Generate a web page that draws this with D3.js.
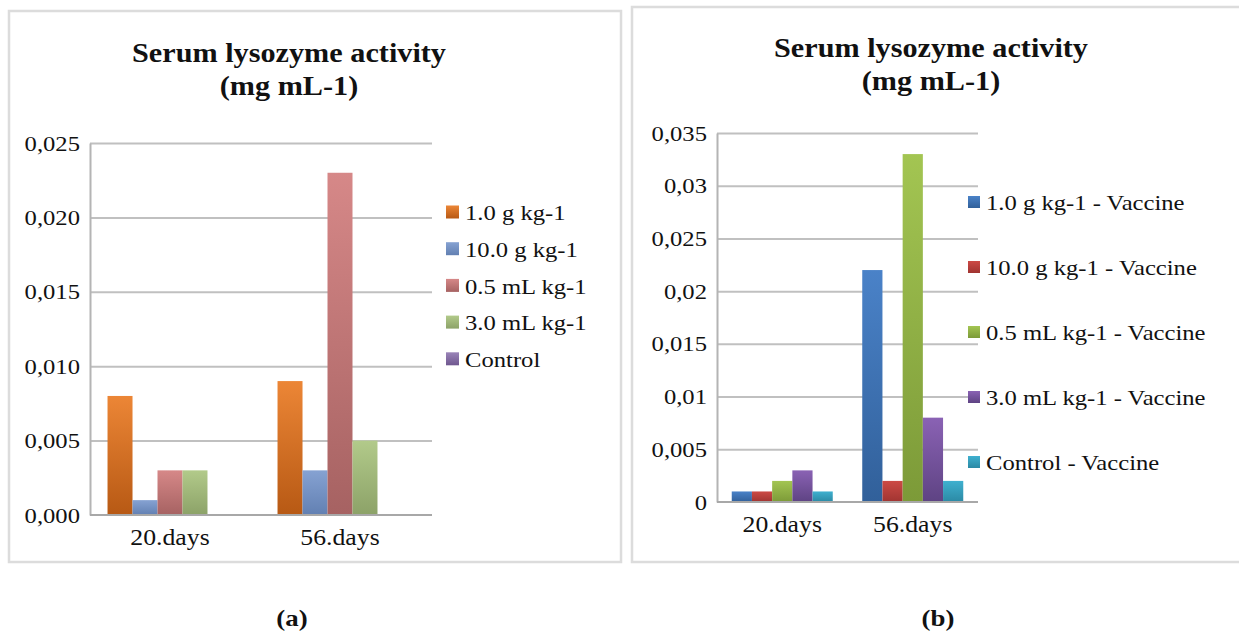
<!DOCTYPE html>
<html>
<head>
<meta charset="utf-8">
<script src="https://cdn.jsdelivr.net/npm/d3@7"></script>
<style>
  body { margin: 0; background: #fff; }
  svg { display: block; }
</style>
</head>
<body>
<script>
// data

var categories = ["20.days", "56.days"];

var seriesA = ["1.0 g kg-1", "10.0 g kg-1", "0.5 mL kg-1", "3.0 mL kg-1", "Control"];
var valuesA20 = [0.008, 0.001, 0.003, 0.003, 0.00005];
var valuesA56 = [0.009, 0.003, 0.023, 0.005, 0.00005];
var ticksA = [0, 0.005, 0.010, 0.015, 0.020, 0.025];

var seriesB = ["1.0 g kg-1 - Vaccine", "10.0 g kg-1 - Vaccine", "0.5 mL kg-1 - Vaccine",
               "3.0 mL kg-1 - Vaccine", "Control - Vaccine"];
var valuesB20 = [0.001, 0.001, 0.002, 0.003, 0.001];
var valuesB56 = [0.022, 0.002, 0.033, 0.008, 0.002];
var ticksB = [0, 0.005, 0.01, 0.015, 0.02, 0.025, 0.03, 0.035];

// top / bottom colours of the bar gradients
var coloursA = [["#ec8636", "#b75914"], ["#86a2d2", "#6280b2"], ["#d68888", "#a66262"],
                ["#b2ca8a", "#8ca268"], ["#9a84b8", "#6f578f"]];
var coloursB = [["#4a82c8", "#31609a"], ["#cc4a45", "#a03431"], ["#a3c552", "#7c9a38"],
                ["#8a62b4", "#5e4383"], ["#3fb0cf", "#2b89a4"]];

var FONT = "'Liberation Serif', 'Times New Roman', 'DejaVu Serif', serif";
var SX = 1.12; // the source picture is a little stretched sideways

function stretch(sel) {
  sel.each(function() {
    var x = +this.getAttribute("x") || 0;
    this.setAttribute("transform", "translate(" + x + ",0) scale(" + SX + ",1) translate(" + (-x) + ",0)");
  });
}

var svg = d3.select("body").append("svg")
    .attr("width", 1239).attr("height", 635)
    .attr("font-family", FONT)
    .attr("fill", "#111");

var defs = svg.append("defs");

function appendGradient(id, pair) {
  var g = defs.append("linearGradient").attr("id", id)
      .attr("x1", "0%").attr("y1", "0%").attr("x2", "0%").attr("y2", "100%");
  g.append("stop").attr("offset", "0%").attr("stop-color", pair[0]);
  g.append("stop").attr("offset", "100%").attr("stop-color", pair[1]);
}

function drawPanel(opt) {
  var panel = svg.append("g");

  panel.append("rect")
      .attr("x", opt.frame[0]).attr("y", opt.frame[1])
      .attr("width", opt.frame[2]).attr("height", opt.frame[3])
      .attr("fill", "#fff").attr("stroke", "#dcdcdc").attr("stroke-width", 2.5);

  // title
  var title = panel.append("text")
      .attr("text-anchor", "middle")
      .attr("font-size", 27).attr("font-weight", "bold").attr("fill", "#111");
  title.append("tspan").attr("x", opt.titleX).attr("y", opt.titleY).text("Serum lysozyme activity");
  title.append("tspan").attr("x", opt.titleX).attr("y", opt.titleY + 33).text("(mg mL-1)");
  title.attr("transform", "translate(" + opt.titleX + ",0) scale(" + SX + ",1) translate(" + (-opt.titleX) + ",0)");

  var y = d3.scaleLinear().domain([0, opt.ticks[opt.ticks.length - 1]]).range([opt.bottom, opt.top]);
  var x0 = d3.scaleBand().domain(categories).range(opt.band)
      .paddingInner(opt.pad).paddingOuter(opt.pad / 2);
  var x1 = d3.scaleBand().domain(opt.series).range([0, x0.bandwidth()]);

  // gridlines
  panel.append("g")
      .attr("transform", "translate(" + opt.left + ",0)")
      .call(d3.axisLeft(y).tickValues(opt.ticks.slice(1)).tickSize(-(opt.gridRight - opt.left)).tickFormat(""))
      .call(function(g) {
        g.select(".domain").remove();
        g.selectAll("line").attr("stroke", "#c0c0c0").attr("stroke-width", 2);
      });

  // y axis
  panel.append("g")
      .attr("transform", "translate(" + opt.left + ",0)")
      .call(d3.axisLeft(y).tickValues(opt.ticks).tickSize(0).tickPadding(10).tickFormat(opt.format))
      .attr("font-family", FONT).attr("font-size", 22)
      .call(function(g) {
        g.select(".domain").attr("stroke", "#b4b4b4").attr("stroke-width", 2);
        g.selectAll("text").attr("fill", "#111").call(stretch);
      });

  // bars
  var rows = categories.map(function(c, i) { return { cat: c, values: opt.values[i] }; });
  panel.append("g").selectAll("g")
      .data(rows)
      .join("g")
      .attr("transform", function(d) { return "translate(" + x0(d.cat) + ",0)"; })
      .selectAll("rect")
      .data(function(d) { return d.values.map(function(v, j) { return { key: opt.series[j], value: v, j: j }; }); })
      .join("rect")
      .attr("x", function(d) { return x1(d.key); })
      .attr("width", x1.bandwidth())
      .attr("y", function(d) { return y(d.value); })
      .attr("height", function(d) { return y(0) - y(d.value); })
      .attr("fill", function(d) { return "url(#" + opt.id + "-g" + d.j + ")"; });

  // x axis
  panel.append("g")
      .attr("transform", "translate(0," + opt.bottom + ")")
      .call(d3.axisBottom(x0).tickSize(0).tickPadding(14))
      .attr("font-family", FONT).attr("font-size", 23)
      .call(function(g) {
        g.select(".domain").attr("d", "M" + opt.left + ",0H" + opt.gridRight)
            .attr("stroke", "#a8a8a8").attr("stroke-width", 2);
        g.selectAll("text").attr("fill", "#111").call(stretch);
      });

  // legend
  var legend = panel.append("g").selectAll("g")
      .data(opt.series)
      .join("g")
      .attr("transform", function(d, i) { return "translate(" + opt.legendX + "," + (opt.legendY + i * opt.legendStep) + ")"; });
  legend.append("rect")
      .attr("x", 0).attr("y", -opt.sq / 2 - 1).attr("width", opt.sq).attr("height", opt.sq)
      .attr("fill", function(d, i) { return "url(#" + opt.id + "-g" + i + ")"; });
  legend.append("text")
      .attr("x", opt.sq + 6).attr("dy", "0.33em")
      .attr("font-size", 22).attr("fill", "#111")
      .text(function(d) { return d; })
      .call(stretch);

  // caption
  svg.append("text")
      .attr("x", opt.captionX).attr("y", 626)
      .attr("text-anchor", "middle")
      .attr("font-size", 24).attr("font-weight", "bold").attr("fill", "#111")
      .text(opt.caption)
      .call(stretch);
}

coloursA.forEach(function(c, i) { appendGradient("a-g" + i, c); });
coloursB.forEach(function(c, i) { appendGradient("b-g" + i, c); });

var formatComma3 = function(v) { return d3.format(".3f")(v).replace(".", ","); };
var formatGeneral = function(v) { return String(+v.toFixed(3)).replace(".", ","); };

drawPanel({
  id: "a", frame: [9, 11, 612, 551],
  titleX: 289, titleY: 62,
  left: 90, band: [85, 425], gridRight: 432, top: 143, bottom: 515, pad: 0.265,
  ticks: ticksA, format: formatComma3,
  series: seriesA, values: [valuesA20, valuesA56],
  legendX: 446, legendY: 213, legendStep: 36.7, sq: 13,
  captionX: 292, caption: "(a)"
});

drawPanel({
  id: "b", frame: [632, 7, 620, 555],
  titleX: 931, titleY: 57,
  left: 717, band: [717, 978], gridRight: 978, top: 133, bottom: 502, pad: 0.226,
  ticks: ticksB, format: formatGeneral,
  series: seriesB, values: [valuesB20, valuesB56],
  legendX: 968, legendY: 203, legendStep: 65, sq: 12,
  captionX: 938, caption: "(b)"
});
</script>
</body>
</html>
